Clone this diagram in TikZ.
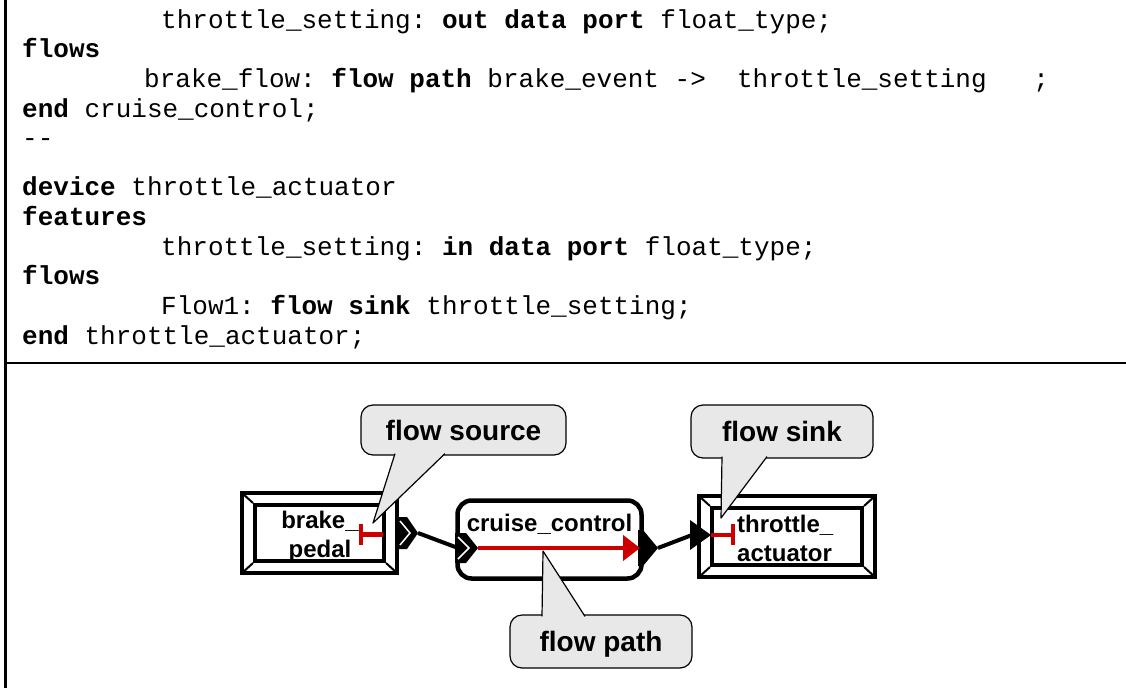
\documentclass[tikz,border=0pt]{standalone}
\usepackage{fontspec}
\setmainfont{Liberation Sans}
\newfontfamily\codefont{Liberation Mono}
\usetikzlibrary{positioning,arrows.meta}
\definecolor{flowred}{HTML}{CC0000}
\definecolor{calloutgray}{HTML}{E8E8E8}

\begin{document}
\begin{tikzpicture}[x=1pt, y=-1pt,
  codeline/.style={anchor=base west, inner sep=0pt, font=\codefont\fontsize{26}{30}\selectfont\frenchspacing},
  devbox/.style={draw, line width=4pt, inner sep=0pt},
  devframe/.style={line width=4.5pt},
  devcorner/.style={line width=2pt},
  boxtext/.style={font=\bfseries\fontsize{24}{29}\selectfont, inner sep=0pt, align=center},
  conn/.style={line width=4pt},
  flowmark/.style={flowred, line width=4.5pt},
  callout/.style={draw, fill=calloutgray, line width=1.2pt, rounded corners=12pt,
    inner sep=0pt, text height=20pt, text depth=0pt,
    font=\bfseries\fontsize{28}{34}\selectfont},
  pointer/.style={fill=calloutgray, draw, line width=1.2pt, line join=round}]
  \useasboundingbox (0,0) rectangle (1126,688);
  \draw[line width=2.5pt] (5.5,0) -- (5.5,688);
  \draw[line width=2.5pt] (5.5,363) -- (1126,363);

  \node[codeline] (c1) at (161,28) {throttle\_setting: \textbf{out data port} float\_type;};
  \node[codeline] (c2) at (22,57) {\textbf{flows}};
  \node[codeline] (c3) at (144,87) {brake\_flow: \textbf{flow path} brake\_event ->\ \ throttle\_setting\ \ \ ;};
  \node[codeline] (c4) at (22,117) {\textbf{end} cruise\_control;};
  \node[codeline] (c5) at (22,146) {-{}-};
  \node[codeline] (c6) at (22,195) {\textbf{device} throttle\_actuator};
  \node[codeline] (c7) at (22,225) {\textbf{features}};
  \node[codeline] (c8) at (161,255) {throttle\_setting: \textbf{in data port} float\_type;};
  \node[codeline] (c9) at (22,284) {\textbf{flows}};
  \node[codeline] (c10) at (161,314) {Flow1: \textbf{flow sink} throttle\_setting;};
  \node[codeline] (c11) at (22,344) {\textbf{end} throttle\_actuator;};

  \node[devbox, minimum width=129pt, minimum height=56pt] (bp) at (319.5,533) {};
  \node[devbox, minimum width=150pt, minimum height=57pt] (ta) at (787,536.5) {};
  \foreach \dev in {bp,ta} {
    \draw[devframe] ([shift={(-11,-10)}]\dev.north west) rectangle ([shift={(11,10)}]\dev.south east);
    \draw[devcorner] (\dev.north west) -- ++(-11,-10) (\dev.north east) -- ++(11,-10)
      (\dev.south west) -- ++(-11,10) (\dev.south east) -- ++(11,10);
  }
  \node[boxtext] (bptext) at (320,537) {brake\_\\pedal};
  \node[boxtext, align=left, anchor=west] (tatext) at (737,538) {throttle\_\\actuator};

  \node[draw, line width=4.5pt, rounded corners=14pt, minimum width=184pt, minimum height=78pt] (cc) at (549.5,539.5) {};
  \node[boxtext, below=15.5pt of cc.north] (cctext) {cruise\_control};

  % ports
  \fill (397,517) -- (407,517) -- (418,533) -- (407,549) -- (397,549) -- cycle;
  \draw[white, line width=1.5pt] (400,521) -- (410,533) -- (400,545);
  \fill (455,533) -- (466,533) -- (478,548) -- (466,563) -- (455,563) -- cycle;
  \draw[white, line width=1.5pt] (458,537) -- (469,548) -- (458,559);
  \fill (638,530) -- (643,530) -- (658,548) -- (643,566) -- (638,566) -- cycle;
  \fill (690,520) -- (711,535) -- (690,550) -- cycle;
  \coordinate (bpout) at (418,533);
  \coordinate (ccin) at (458,548);
  \coordinate (ccout) at (658,548);
  \coordinate (tain) at (692,535);
  \draw[conn] (bpout) -- (ccin);
  \draw[conn] (ccout) -- (tain);

  % flows
  \draw[flowmark] (361,534.5) -- (383,534.5) (361,524) -- (361,545);
  \draw[flowmark, -{Triangle[length=17pt,width=25pt]}] (478,548) -- (640,548);
  \draw[flowmark] (711,535) -- (733,535) (733,524) -- (733,545);

  % callouts
  \coordinate (srctip) at (373,523);
  \coordinate (sinktip) at (721,518);
  \coordinate (pathtip) at (543,551);
  \node[callout, minimum width=205pt, minimum height=50pt] (fsrc) at (463.5,430) {flow source};
  \filldraw[pointer] ([xshift=-68.5pt,yshift=2pt]fsrc.south) -- (srctip) -- ([xshift=-18.5pt,yshift=2pt]fsrc.south);
  \node[callout, minimum width=182pt, minimum height=53pt] (fsink) at (782,431.5) {flow sink};
  \filldraw[pointer] ([xshift=-60pt,yshift=2pt]fsink.south) -- (sinktip) -- ([xshift=-15pt,yshift=2pt]fsink.south);
  \node[callout, minimum width=182pt, minimum height=53pt] (fpath) at (601,641.5) {flow path};
  \filldraw[pointer] ([xshift=-59pt,yshift=-2pt]fpath.north) -- (pathtip) -- ([xshift=-16pt,yshift=-2pt]fpath.north);
\end{tikzpicture}
\end{document}
